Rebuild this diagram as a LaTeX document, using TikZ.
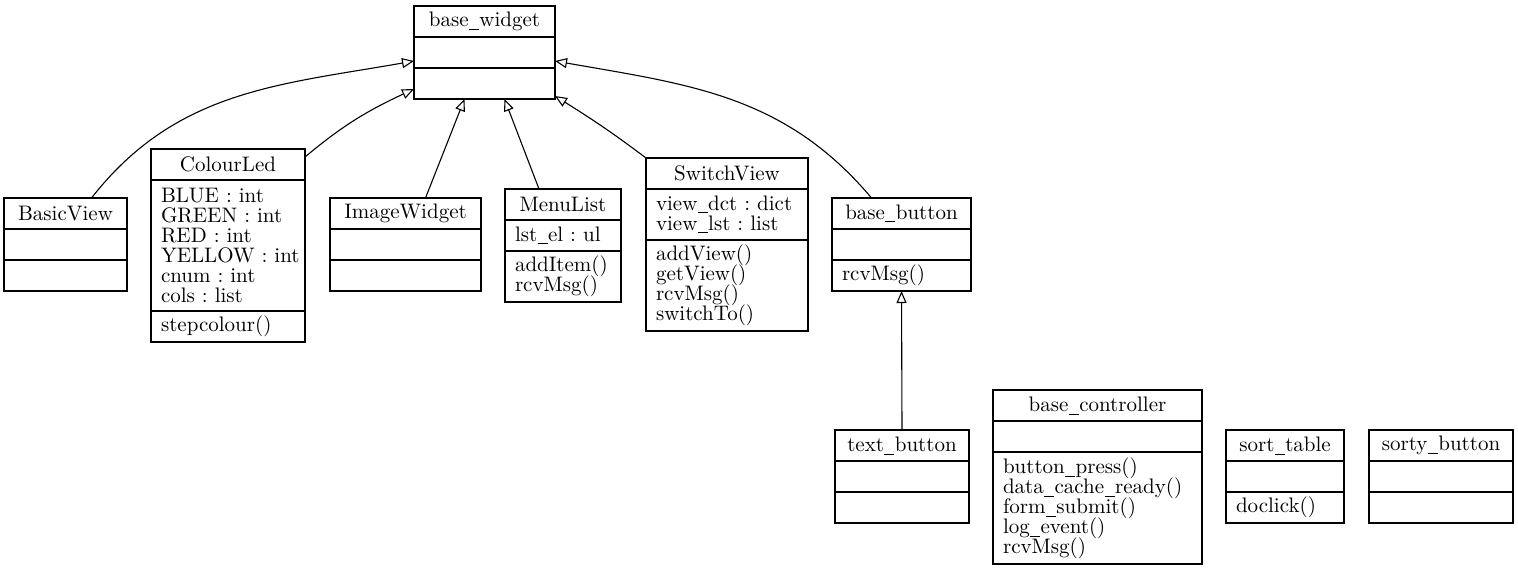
\documentclass[tikz,border=0pt]{standalone}
\usepackage{fontspec}
\usetikzlibrary{positioning,arrows.meta}
\newcommand{\usc}{\kern0.2pt\rule[-1.6pt]{5pt}{0.45pt}\kern0.2pt}
\begin{document}
\begin{tikzpicture}[x=0.5pt, y=0.5pt, line join=miter,
    font=\fontsize{10.5}{10}\selectfont,
    execute at begin node={\lineskiplimit=-4pt\relax},
    clshead/.style={draw, line width=0.55pt, anchor=north west, text width=#1, align=center,
      minimum height=15.5pt, inner xsep=5pt, inner ysep=1pt, outer sep=0pt},
    clspart/.style={draw, line width=0.55pt, text width=#1, align=left,
      minimum height=15.5pt, inner xsep=5pt, inner ysep=1pt, outer sep=0pt},
    isa/.style={line width=0.55pt, -{Triangle[open, length=6pt, width=5pt]}}]
  \useasboundingbox (0,0) rectangle (1518,-569);
  % base_widget
  \node[clshead=60.5pt] (bw) at (414,-6) {base\usc widget};
  \node[clspart=60.5pt, below=0pt of bw] (bw-a) {};
  \node[clspart=60.5pt, below=0pt of bw-a] (bw-o) {};
  % BasicView
  \node[clshead=51.5pt] (bv) at (4,-198) {BasicView};
  \node[clspart=51.5pt, below=0pt of bv] (bv-a) {};
  \node[clspart=51.5pt, below=0pt of bv-a] (bv-o) {};
  % ColourLed
  \node[clshead=67pt] (cl) at (151,-149) {ColourLed};
  \node[clspart=67pt, minimum height=65.5pt, below=0pt of cl] (cl-a)
    {BLUE~:~int\\GREEN~:~int\\RED~:~int\\YELLOW~:~int\\cnum~:~int\\cols~:~list};
  \node[clspart=67pt, below=0pt of cl-a] (cl-o) {stepcolour()};
  % ImageWidget
  \node[clshead=65.5pt] (iw) at (330,-198) {ImageWidget};
  \node[clspart=65.5pt, below=0pt of iw] (iw-a) {};
  \node[clspart=65.5pt, below=0pt of iw-a] (iw-o) {};
  % MenuList
  \node[clshead=48pt] (ml) at (505,-189) {MenuList};
  \node[clspart=48pt, below=0pt of ml] (ml-a) {lst\usc el~:~ul};
  \node[clspart=48pt, minimum height=25.5pt, below=0pt of ml-a] (ml-o) {addItem()\\rcvMsg()};
  % SwitchView
  \node[clshead=71pt] (sv) at (646,-158) {SwitchView};
  \node[clspart=71pt, minimum height=25.5pt, below=0pt of sv] (sv-a)
    {view\usc dct~:~dict\\view\usc lst~:~list};
  \node[clspart=71pt, minimum height=45.5pt, below=0pt of sv-a] (sv-o)
    {addView()\\getView()\\rcvMsg()\\switchTo()};
  % base_button
  \node[clshead=59.5pt] (bb) at (832,-198) {base\usc button};
  \node[clspart=59.5pt, below=0pt of bb] (bb-a) {};
  \node[clspart=59.5pt, below=0pt of bb-a] (bb-o) {rcvMsg()};
  % text_button
  \node[clshead=57pt] (tb) at (835,-430) {text\usc button};
  \node[clspart=57pt, below=0pt of tb] (tb-a) {};
  \node[clspart=57pt, below=0pt of tb-a] (tb-o) {};
  % base_controller
  \node[clshead=94.5pt] (bc) at (993,-390) {base\usc controller};
  \node[clspart=94.5pt, below=0pt of bc] (bc-a) {};
  \node[clspart=94.5pt, minimum height=56pt, below=0pt of bc-a] (bc-o)
    {button\usc press()\\data\usc cache\usc ready()\\form\usc submit()\\log\usc event()\\rcvMsg()};
  % sort_table
  \node[clshead=49pt] (st) at (1226,-430) {sort\usc table};
  \node[clspart=49pt, below=0pt of st] (st-a) {};
  \node[clspart=49pt, below=0pt of st-a] (st-o) {doclick()};
  % sorty_button
  \node[clshead=62pt] (sb) at (1369,-430) {sorty\usc button};
  \node[clspart=62pt, below=0pt of sb] (sb-a) {};
  \node[clspart=62pt, below=0pt of sb-a] (sb-o) {};
  % inheritance
  \draw[isa] ([xshift=13pt]bv.north) to[out=52, in=190] ([yshift=3.5pt]bw-a.south west);
  \draw[isa] ([yshift=-4pt]cl.north east) to[out=40, in=205] ([yshift=5pt]bw-o.south west);
  \draw[isa] ([xshift=10pt]iw.north) -- ([xshift=-10pt]bw-o.south);
  \draw[isa] ([xshift=-12pt]ml.north) -- ([xshift=10pt]bw-o.south);
  \draw[isa] (sv.north west) to[out=143, in=-32] ([yshift=1.5pt]bw-o.south east);
  \draw[isa] ([xshift=-15pt]bb.north) to[out=130, in=-10] ([yshift=3.5pt]bw-a.south east);
  \draw[isa] (tb.north) -- (bb-o.south);
\end{tikzpicture}
\end{document}
